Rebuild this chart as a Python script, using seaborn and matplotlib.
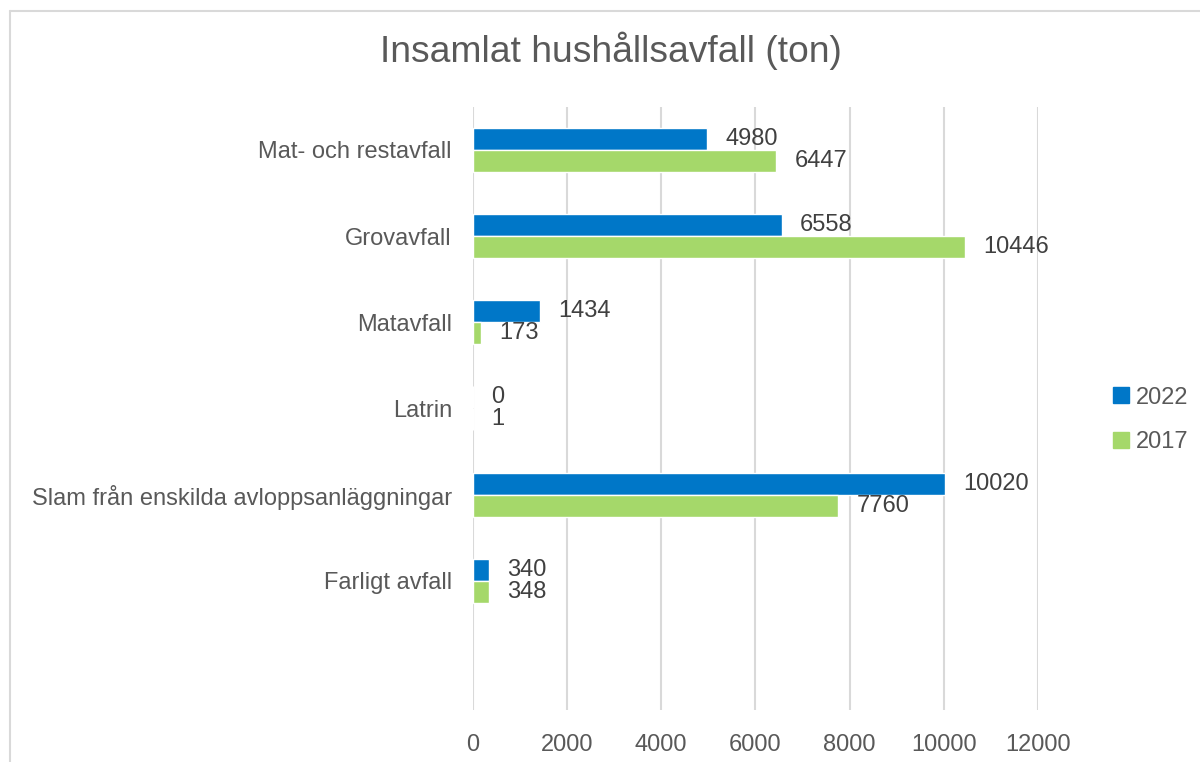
import pandas as pd
import numpy as np
import seaborn as sns
from matplotlib import pyplot as plt
from matplotlib.lines import Line2D

categories = ['Mat- och restavfall', 'Grovavfall', 'Matavfall', 'Latrin',
              'Slam från enskilda avloppsanläggningar', 'Farligt avfall']
years = ['2022', '2017']
vals_2022 = [4980, 6558, 1434, 0, 10020, 340]
vals_2017 = [6447, 10446, 173, 1, 7760, 348]
colors = ['#0077C8', '#A5D86A']
txt = '#595959'

df = pd.DataFrame({
    'kategori': categories * 2,
    'ar': [years[0]] * len(categories) + [years[1]] * len(categories),
    'ton': vals_2022 + vals_2017,
})

sns.set_theme(style='white')
plt.rcParams['font.family'] = ['Liberation Sans', 'DejaVu Sans']

fig = plt.figure(figsize=(12, 7.62), dpi=100)
ax = fig.add_axes([0.394, 0.068, 0.471, 0.792])

sns.barplot(data=df, y='kategori', x='ton', hue='ar', order=categories,
            hue_order=years, palette=colors, width=0.51, orient='h',
            saturation=1, errorbar=None, ax=ax, legend=False)

for cont in ax.containers:
    ax.bar_label(cont, labels=[f'{int(v)}' for v in cont.datavalues],
                 padding=13, fontsize=17, color='#404040')

ax.set_xlim(0, 12000)
ax.set_ylim(6.5, -0.5)
ax.set_xticks(np.arange(0, 12001, 2000))
ax.set_xlabel('')
ax.set_ylabel('')
ax.grid(axis='x', color='#d9d9d9', linewidth=1.5)
ax.set_axisbelow(True)
for s in ax.spines.values():
    s.set_visible(False)
ax.tick_params(axis='both', length=0, labelsize=17, labelcolor=txt)
ax.tick_params(axis='x', pad=17)
ax.tick_params(axis='y', pad=15)

handles = [plt.Rectangle((0, 0), 1, 1, color=c) for c in colors]
fig.legend(handles, years, loc='center left', bbox_to_anchor=(0.91, 0.449),
           frameon=False, fontsize=17, labelcolor=txt, handlelength=0.65,
           handleheight=0.65, handletextpad=0.3, labelspacing=0.95)

fig.suptitle('Insamlat hushållsavfall (ton)', x=0.509, y=0.958, fontsize=26.8,
             color=txt)

# chart border (cut at right/bottom as in the picture)
fig.add_artist(Line2D([0.008, 1.0], [0.986, 0.986], color='#d9d9d9', lw=1.5))
fig.add_artist(Line2D([0.008, 0.008], [0.0, 0.986], color='#d9d9d9', lw=1.5))

fig.savefig('out.png', dpi=100, facecolor='white')
